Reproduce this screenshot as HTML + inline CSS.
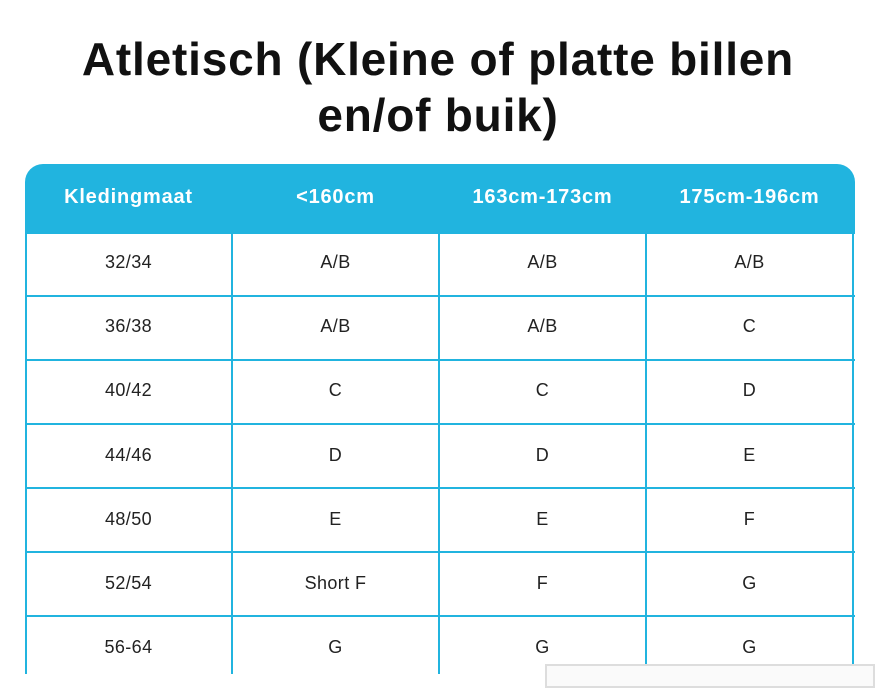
<!DOCTYPE html>
<html><head><style>
body{margin:0;width:886px;height:674px;background:#fff;position:relative;overflow:hidden;font-family:"Liberation Sans",sans-serif;}
h1{position:absolute;top:31px;left:0;width:876px;margin:0;text-align:center;font-size:46px;line-height:56px;font-weight:bold;color:#111;letter-spacing:0.8px}
.hdr{position:absolute;left:25px;top:164px;width:830px;height:70px;background:#21b4df;border-radius:18px 18px 0 0}
.cell{position:absolute;text-align:center;font-size:18px;color:#222;letter-spacing:0.4px}
.h{color:#fff;font-weight:bold;font-size:20px;letter-spacing:0.8px}
.vl{position:absolute;width:2px;background:#21b4df;top:233px;height:441px}
.hl{position:absolute;height:2px;background:#21b4df;left:25px;width:830px}
.box{position:absolute;left:545px;top:664px;width:326px;height:20px;border:2px solid #ddd;background:#fafafa}
</style></head><body>
<h1>Atletisch (Kleine of platte billen<br>en/of buik)</h1>
<div class="hdr"></div>
<div class="vl" style="left:25px"></div><div class="vl" style="left:231px"></div><div class="vl" style="left:438px"></div><div class="vl" style="left:645px"></div><div class="vl" style="left:852px"></div>
<div class="hl" style="top:295px"></div><div class="hl" style="top:359px"></div><div class="hl" style="top:423px"></div><div class="hl" style="top:487px"></div><div class="hl" style="top:551px"></div><div class="hl" style="top:615px"></div>
<div id="t"></div>
<div class="box"></div>
<script>
var cols=[25,232,439,646],w=207;
var rows=[["Kledingmaat","&lt;160cm","163cm-173cm","175cm-196cm"],["32/34","A/B","A/B","A/B"],["36/38","A/B","A/B","C"],["40/42","C","C","D"],["44/46","D","D","E"],["48/50","E","E","F"],["52/54","Short F","F","G"],["56-64","G","G","G"]];
var h="";
rows.forEach(function(r,i){var y=i==0?186:252+(i-1)*64.2;r.forEach(function(c,j){h+='<div class="cell'+(i==0?' h':'')+'" style="left:'+cols[j]+'px;width:'+w+'px;top:'+y+'px">'+c+'</div>';});});
document.getElementById('t').innerHTML=h;
</script>
</body></html>
